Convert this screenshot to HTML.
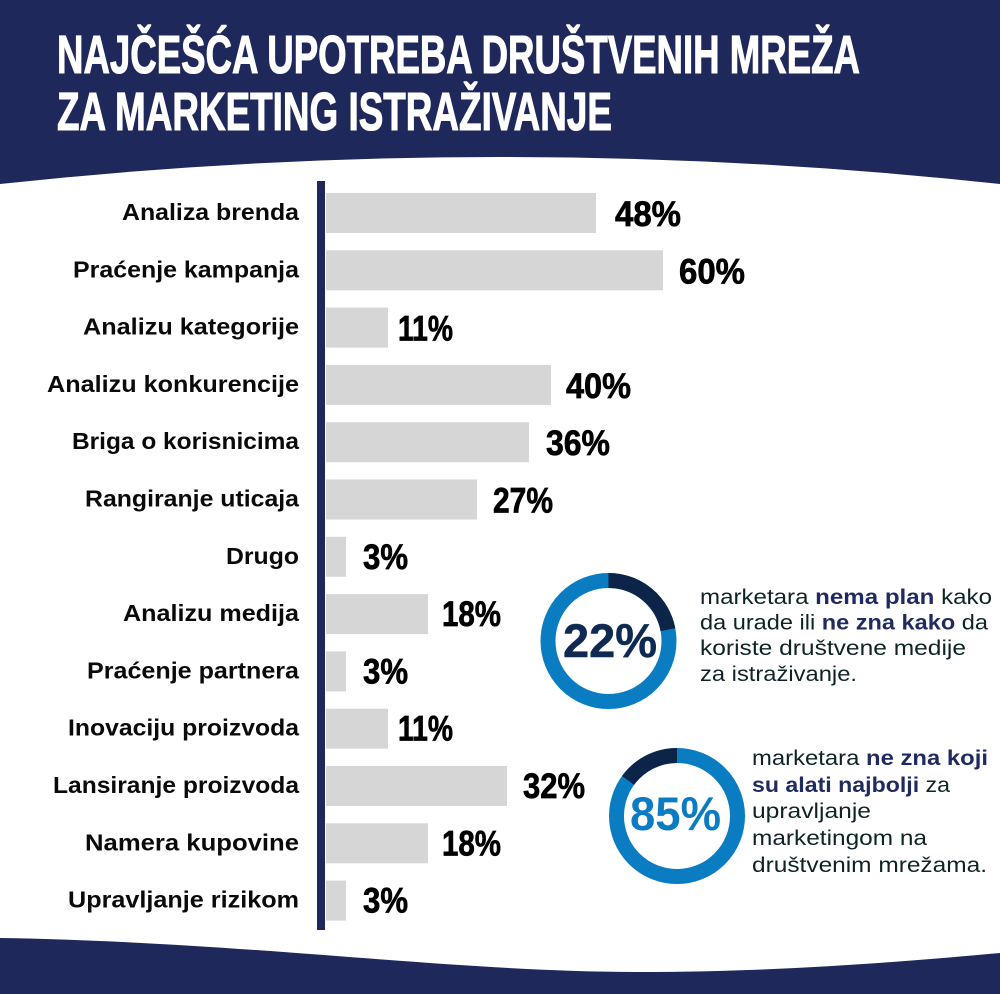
<!DOCTYPE html>
<html>
<head>
<meta charset="utf-8">
<style>
  html, body { margin: 0; padding: 0; background: #ffffff; }
  svg { display: block; }
  .title { font-family: "Liberation Sans", sans-serif; font-weight: bold; font-size: 54px; fill: #ffffff; stroke: #ffffff; stroke-width: 1.1px; }
  .lab { font-family: "Liberation Sans", sans-serif; font-weight: bold; font-size: 23px; fill: #0a0a0a; }
  .val { font-family: "Liberation Sans", sans-serif; font-weight: bold; font-size: 35px; fill: #000000; stroke: #000000; stroke-width: 0.7px; }
  .desc { font-family: "Liberation Sans", sans-serif; font-size: 21px; fill: #0d2326; }
  .b { font-weight: bold; fill: #1f2a5e; }
</style>
</head>
<body>
<svg width="1000" height="994" viewBox="0 0 1000 994" xmlns="http://www.w3.org/2000/svg">
  <rect x="0" y="0" width="1000" height="994" fill="#ffffff"/>
  <!-- header -->
  <path d="M0,0 L1000,0 L1000,184 Q500,130 0,184 Z" fill="#1f285a"/>
  <text class="title" x="57" y="73" textLength="803" lengthAdjust="spacingAndGlyphs">NAJČEŠĆA UPOTREBA DRUŠTVENIH MREŽA</text>
  <text class="title" x="57" y="130" textLength="555" lengthAdjust="spacingAndGlyphs">ZA MARKETING ISTRAŽIVANJE</text>

  <!-- footer wave -->
  <path d="M0,938 C250,942 450,972 640,972 C780,972 900,962 1000,953 L1000,994 L0,994 Z" fill="#1f285a"/>

  <!-- axis -->
  <rect x="317" y="181" width="8" height="749" fill="#1f285a"/>

  <!-- bars -->
  <g fill="#d6d6d6">
    <rect x="326" y="193" width="270" height="40"/>
    <rect x="326" y="250.3" width="337" height="40"/>
    <rect x="326" y="307.6" width="62" height="40"/>
    <rect x="326" y="364.9" width="225" height="40"/>
    <rect x="326" y="422.2" width="203" height="40"/>
    <rect x="326" y="479.5" width="151" height="40"/>
    <rect x="326" y="536.8" width="20" height="40"/>
    <rect x="326" y="594.1" width="102" height="40"/>
    <rect x="326" y="651.4" width="20" height="40"/>
    <rect x="326" y="708.7" width="62" height="40"/>
    <rect x="326" y="766" width="181" height="40"/>
    <rect x="326" y="823.3" width="102" height="40"/>
    <rect x="326" y="880.6" width="20" height="40"/>
  </g>

  <!-- labels -->
  <g text-anchor="end">
    <text class="lab" x="299" y="220" textLength="177" lengthAdjust="spacingAndGlyphs">Analiza brenda</text>
    <text class="lab" x="299" y="277.3" textLength="226" lengthAdjust="spacingAndGlyphs">Praćenje kampanja</text>
    <text class="lab" x="299" y="334.6" textLength="216" lengthAdjust="spacingAndGlyphs">Analizu kategorije</text>
    <text class="lab" x="299" y="391.9" textLength="252" lengthAdjust="spacingAndGlyphs">Analizu konkurencije</text>
    <text class="lab" x="299" y="449.2" textLength="227" lengthAdjust="spacingAndGlyphs">Briga o korisnicima</text>
    <text class="lab" x="299" y="506.5" textLength="214" lengthAdjust="spacingAndGlyphs">Rangiranje uticaja</text>
    <text class="lab" x="299" y="563.8" textLength="73" lengthAdjust="spacingAndGlyphs">Drugo</text>
    <text class="lab" x="299" y="621.1" textLength="176" lengthAdjust="spacingAndGlyphs">Analizu medija</text>
    <text class="lab" x="299" y="678.4" textLength="212" lengthAdjust="spacingAndGlyphs">Praćenje partnera</text>
    <text class="lab" x="299" y="735.7" textLength="231" lengthAdjust="spacingAndGlyphs">Inovaciju proizvoda</text>
    <text class="lab" x="299" y="793" textLength="246" lengthAdjust="spacingAndGlyphs">Lansiranje proizvoda</text>
    <text class="lab" x="299" y="850.3" textLength="214" lengthAdjust="spacingAndGlyphs">Namera kupovine</text>
    <text class="lab" x="299" y="907.6" textLength="231" lengthAdjust="spacingAndGlyphs">Upravljanje rizikom</text>
  </g>

  <!-- values -->
  <text class="val" x="615" y="226" textLength="66" lengthAdjust="spacingAndGlyphs">48%</text>
  <text class="val" x="679" y="283.3" textLength="66" lengthAdjust="spacingAndGlyphs">60%</text>
  <text class="val" x="398" y="340.6" textLength="55" lengthAdjust="spacingAndGlyphs">11%</text>
  <text class="val" x="566" y="397.9" textLength="65" lengthAdjust="spacingAndGlyphs">40%</text>
  <text class="val" x="546" y="455.2" textLength="64" lengthAdjust="spacingAndGlyphs">36%</text>
  <text class="val" x="493" y="512.5" textLength="60" lengthAdjust="spacingAndGlyphs">27%</text>
  <text class="val" x="363" y="568.8" textLength="45" lengthAdjust="spacingAndGlyphs">3%</text>
  <text class="val" x="442" y="626.1" textLength="59" lengthAdjust="spacingAndGlyphs">18%</text>
  <text class="val" x="363" y="683.4" textLength="45" lengthAdjust="spacingAndGlyphs">3%</text>
  <text class="val" x="398" y="740.7" textLength="55" lengthAdjust="spacingAndGlyphs">11%</text>
  <text class="val" x="523" y="798" textLength="62" lengthAdjust="spacingAndGlyphs">32%</text>
  <text class="val" x="442" y="855.3" textLength="59" lengthAdjust="spacingAndGlyphs">18%</text>
  <text class="val" x="363" y="912.6" textLength="45" lengthAdjust="spacingAndGlyphs">3%</text>

  <!-- donut 1 : 22% -->
  <circle cx="608.5" cy="641" r="60.5" fill="none" stroke="#0a7cc2" stroke-width="15"/>
  <circle cx="608.5" cy="641" r="60.5" fill="none" stroke="#0b2447" stroke-width="15"
          stroke-dasharray="83.6 400" transform="rotate(-90 608.5 641)"/>
  <text x="610" y="657" text-anchor="middle" font-family="Liberation Sans, sans-serif" font-weight="bold" font-size="47" fill="#0f2a52" stroke="#0f2a52" stroke-width="0.5" textLength="94" lengthAdjust="spacingAndGlyphs">22%</text>

  <!-- donut 2 : 85% -->
  <circle cx="677" cy="816" r="60.5" fill="none" stroke="#0a7cc2" stroke-width="15"/>
  <circle cx="677" cy="816" r="60.5" fill="none" stroke="#0b2447" stroke-width="15"
          stroke-dasharray="57 400" transform="rotate(-144 677 816)"/>
  <text x="675.5" y="830" text-anchor="middle" font-family="Liberation Sans, sans-serif" font-weight="bold" font-size="47" fill="#0b7cc3" textLength="91" lengthAdjust="spacingAndGlyphs">85%</text>

  <!-- description 1 -->
  <text class="desc" x="700" y="604" textLength="292" lengthAdjust="spacingAndGlyphs">marketara <tspan class="b">nema plan</tspan> kako</text>
  <text class="desc" x="700" y="629.5" textLength="288" lengthAdjust="spacingAndGlyphs">da urade ili <tspan class="b">ne zna kako</tspan> da</text>
  <text class="desc" x="700" y="655" textLength="266" lengthAdjust="spacingAndGlyphs">koriste društvene medije</text>
  <text class="desc" x="700" y="681" textLength="157" lengthAdjust="spacingAndGlyphs">za istraživanje.</text>

  <!-- description 2 -->
  <text class="desc" x="752" y="765" textLength="236" lengthAdjust="spacingAndGlyphs">marketara <tspan class="b">ne zna koji</tspan></text>
  <text class="desc" x="752" y="792" textLength="198" lengthAdjust="spacingAndGlyphs"><tspan class="b">su alati najbolji</tspan> za</text>
  <text class="desc" x="752" y="818" textLength="119" lengthAdjust="spacingAndGlyphs">upravljanje</text>
  <text class="desc" x="752" y="845" textLength="175" lengthAdjust="spacingAndGlyphs">marketingom na</text>
  <text class="desc" x="752" y="872" textLength="235" lengthAdjust="spacingAndGlyphs">društvenim mrežama.</text>
</svg>
</body>
</html>
